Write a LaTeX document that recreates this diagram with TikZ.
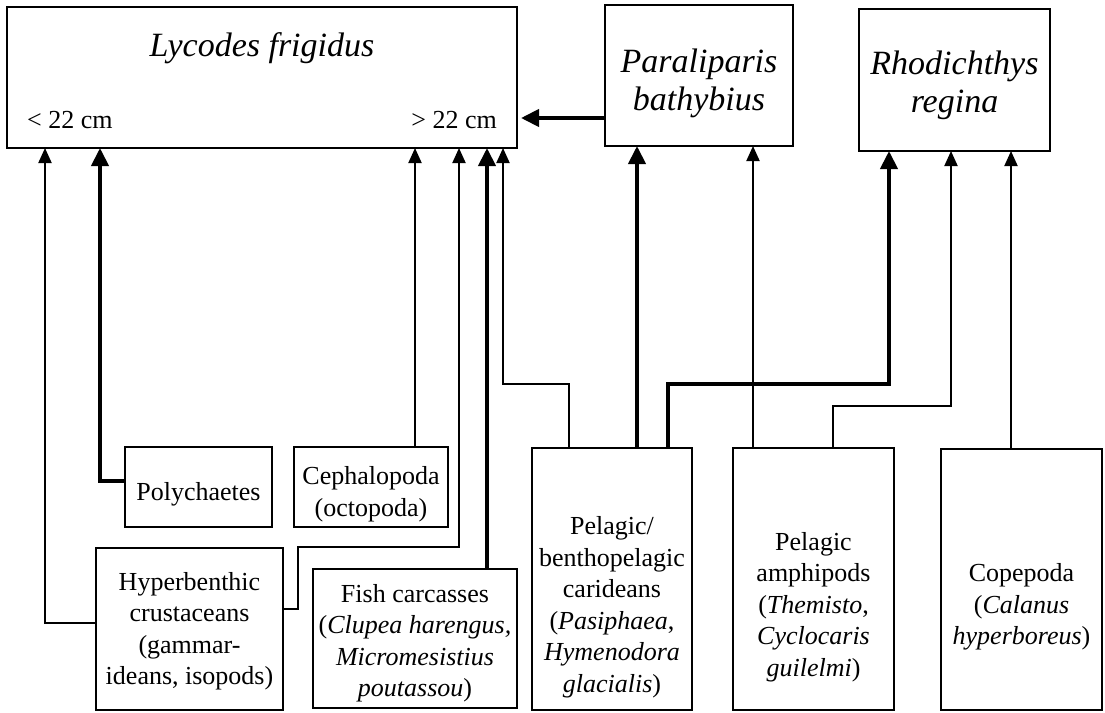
\documentclass[tikz,border=0pt]{standalone}
\usepackage{fontspec}
\setmainfont{Liberation Serif}
\usetikzlibrary{arrows.meta,calc,positioning}
\tikzset{
	box/.style 2 args={draw, line width=2.4pt, inner sep=0pt, outer sep=0pt, minimum width=#1, minimum height=#2},
	lbl/.style={align=center, inner sep=0pt, font=\fontsize{26}{31.5}\selectfont},
	head/.style={align=center, inner sep=0pt, font=\fontsize{34}{38}\selectfont\itshape},
	feed/.style={line width=2pt, -{Triangle[width=13pt,length=15pt]}},
	mainfeed/.style={line width=4pt, -{Triangle[width=17pt,length=18pt]}}
}

\begin{document}
\begin{tikzpicture}[x=1pt, y=-1pt]
			%%%%% START %%%%%
			\useasboundingbox (0,0) rectangle (1105,712);
			
			% predators
			\node[box={510pt}{141pt}] (lyc) at (262,77.5) {};
			\node[box={188pt}{141pt}] (para) at (699,75.5) {};
			\node[box={191pt}{142pt}] (rhod) at (954.5,80) {};
			
			\node[head] (lyc-t) at (262,48) {Lycodes frigidus};
			\node[lbl, anchor=base west] (lyc-s) at (27,128) {< 22 cm};
			\node[lbl, anchor=base east] (lyc-l) at (497,128) {> 22 cm};
			\node[head] (para-t) at (699,83) {Paraliparis\\bathybius};
			\node[head] (rhod-t) at (954.5,85) {Rhodichthys\\regina};
			
			% prey
			\node[box={147pt}{80pt}] (poly) at (198.5,487) {};
			\node[box={154pt}{80pt}] (ceph) at (371,487) {};
			\node[box={187pt}{162pt}] (hyper) at (189.5,629) {};
			\node[box={204pt}{139pt}] (fish) at (415,638.5) {};
			\node[box={160pt}{262pt}] (carid) at (612,579) {};
			\node[box={161pt}{262pt}] (amph) at (813.5,579) {};
			\node[box={161pt}{261pt}] (cope) at (1021.5,579.5) {};
			
			\node[lbl] (poly-t) at (198.5,494) {Polychaetes};
			\node[lbl] (ceph-t) at (371,494) {Cephalopoda\\(octopoda)};
			\node[lbl] (hyper-t) at (189.5,631) {Hyperbenthic\\crustaceans\\(gammar-\\ideans, isopods)};
			\node[lbl] (fish-t) at (415,643) {Fish carcasses\\(\textit{Clupea harengus,}\\\textit{Micromesistius}\\\textit{poutassou})};
			\node[lbl] (carid-t) at (612,607) {Pelagic/\\benthopelagic\\carideans\\(\textit{Pasiphaea},\\\textit{Hymenodora}\\\textit{glacialis})};
			\node[lbl] (amph-t) at (813.5,607) {Pelagic\\amphipods\\(\textit{Themisto},\\\textit{Cyclocaris}\\\textit{guilelmi})};
			\node[lbl] (cope-t) at (1021.5,607) {Copepoda\\(\textit{Calanus}\\\textit{hyperboreus})};
			
			% bends
			\coordinate (j1) at (459,547);
			\coordinate (j2) at (503,384);
			\coordinate (j3) at (889,384);
			\coordinate (j4) at (951,406);
			
			% feeding links
			\draw[feed] ([yshift=6pt]hyper.west) -| ([xshift=38pt]lyc.south west);
			\draw[mainfeed] ([yshift=6pt]poly.west) -| ([xshift=93pt]lyc.south west);
			\draw[feed] ($(ceph.north)+(44pt,0)$) -- ($(ceph.north |- lyc.south)+(44pt,0)$);
			\draw[feed] ([yshift=20pt]hyper.east) -- ++(15pt,0) |- (j1) -- (j1 |- lyc.south);
			\draw[mainfeed] ($(fish.north)+(72pt,0)$) -- ($(fish.north |- lyc.south)+(72pt,0)$);
			\draw[feed] ($(carid.north)+(-43pt,0)$) |- (j2) -- (j2 |- lyc.south);
			\draw[mainfeed] ($(carid.north)+(25pt,0)$) -- ($(carid.north |- para.south)+(25pt,0)$);
			\draw[mainfeed] ($(carid.north)+(56pt,0)$) |- (j3) -- (j3 |- rhod.south);
			\draw[feed] ($(amph.north)+(-60.5pt,0)$) -- ($(amph.north |- para.south)+(-60.5pt,0)$);
			\draw[feed] ($(amph.north)+(19.5pt,0)$) |- (j4) -- (j4 |- rhod.south);
			\draw[feed] ($(cope.north)+(-10.5pt,0)$) -- ($(cope.north |- rhod.south)+(-10.5pt,0)$);
			\draw[mainfeed, shorten >=4pt] ($(para.west)+(0,-42.5pt)$) -- ($(para.west -| lyc.east)+(0,-42.5pt)$);
			
			%%%%% END %%%%%
\end{tikzpicture}
\end{document}
